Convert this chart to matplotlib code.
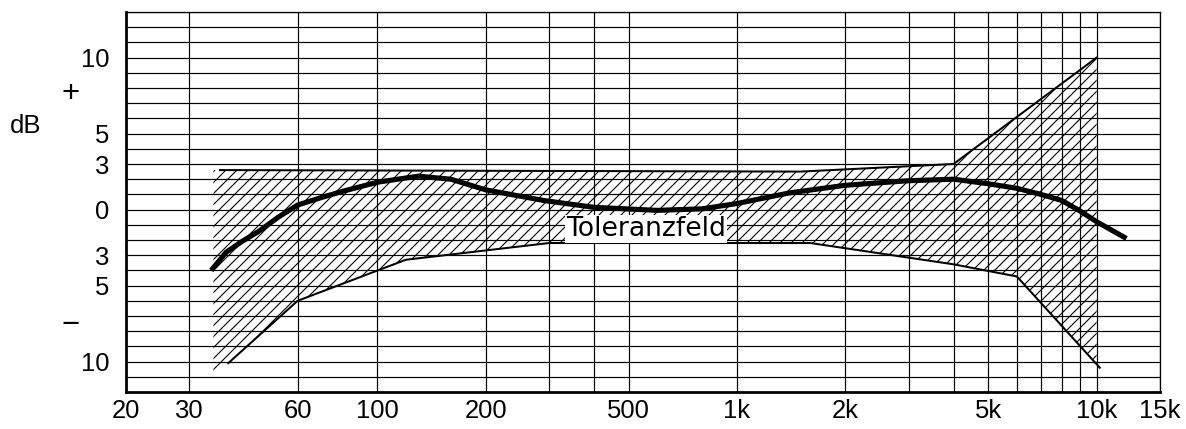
import matplotlib.pyplot as plt
from matplotlib.transforms import blended_transform_factory

# measured response curve (Hz, dB)
curve_f = [34.5, 38, 42, 47, 53, 60, 70, 80, 100, 130, 160, 200, 290, 400,
           600, 800, 1000, 1400, 2000, 3000, 4000, 5000, 6000, 7000, 8000,
           9000, 10000, 12100]
curve_db = [-4.0, -2.8, -2.1, -1.4, -0.5, 0.3, 0.8, 1.2, 1.8, 2.2, 2.0, 1.3,
            0.6, 0.15, -0.05, 0.05, 0.4, 1.1, 1.6, 1.9, 2.0, 1.7, 1.4, 1.0,
            0.6, -0.1, -0.8, -1.9]

# limit lines of the tolerance field
upper_f = [36.5, 1500, 4000, 10000]
upper_db = [2.6, 2.5, 3.0, 10.0]
lower_f = [38.5, 60, 120, 300, 1600, 4000, 6000, 10200]
lower_db = [-10.1, -6.0, -3.3, -2.2, -2.2, -3.6, -4.4, -10.4]

# hatched area (top edge left->right, bottom edge left->right)
field_top_f = [35, 1500, 4000, 10000]
field_top_db = [2.6, 2.5, 3.0, 10.0]
field_bot_f = [35, 38.5, 60, 120, 300, 1600, 4000, 6000, 10000]
field_bot_db = [-10.7, -10.1, -6.0, -3.3, -2.2, -2.2, -3.6, -4.4, -10.1]

# axis ticks
xtick_f = [20, 30, 60, 100, 200, 500, 1000, 2000, 5000, 10000, 15000]
xtick_labels = ['20', '30', '60', '100', '200', '500', '1k', '2k', '5k', '10k', '15k']
xgrid_extra = [300, 400, 3000, 4000, 6000, 7000, 8000, 9000]
ytick_db = list(range(-12, 14))
ytick_named = {10: '10', 5: '5', 3: '3', 0: '0', -3: '3', -5: '5', -10: '10'}

plt.rcParams['font.family'] = ['Liberation Sans', 'DejaVu Sans']
plt.rcParams['hatch.linewidth'] = 0.6

dpi = 132
fig = plt.figure(figsize=(1186 / dpi, 429 / dpi), dpi=dpi)
ax = fig.add_axes([126 / 1186, 37 / 429, 1034 / 1186, 380 / 429])
ax.set_xscale('log')
ax.set_xlim(20, 15000)
ax.set_ylim(-12, 13)

# tolerance field
ax.fill(field_top_f + field_bot_f[::-1], field_top_db + field_bot_db[::-1],
        facecolor='none', edgecolor='black', linewidth=0, hatch='////', zorder=1)
ax.plot(upper_f, upper_db, color='black', lw=1.1, zorder=2)
ax.plot(lower_f, lower_db, color='black', lw=1.1, zorder=2)

# response curve
ax.plot(curve_f, curve_db, color='black', lw=2.8, solid_joinstyle='round',
        solid_capstyle='butt', zorder=3)

ax.text(560, -1.3, 'Toleranzfeld', family='DejaVu Sans', fontsize=14.5,
        ha='center', va='center', zorder=4,
        bbox=dict(facecolor='white', edgecolor='none', pad=0.6))

# grid and ticks
ax.set_xticks(xtick_f)
ax.set_xticklabels(xtick_labels)
ax.set_xticks(xgrid_extra, minor=True)
ax.xaxis.set_minor_formatter(plt.NullFormatter())
ax.set_yticks(ytick_db)
ax.set_yticklabels([ytick_named.get(v, '') for v in ytick_db])
ax.grid(True, which='both', color='black', lw=0.65)
ax.tick_params(which='both', length=0, labelsize=14)
ax.tick_params(axis='x', pad=4)
ax.tick_params(axis='y', pad=9)

for side in ['left', 'bottom']:
    ax.spines[side].set_linewidth(1.5)
for side in ['top', 'right']:
    ax.spines[side].set_linewidth(0.7)

trans = blended_transform_factory(ax.transAxes, ax.transData)
ax.text(-0.097, 5.5, 'dB', transform=trans, ha='center', va='center', fontsize=14)
ax.text(-0.054, 7.6, '+', transform=trans, ha='center', va='center', fontsize=17)
ax.text(-0.054, -7.6, '\u2212', transform=trans, ha='center', va='center', fontsize=17)

fig.savefig('out.png', dpi=dpi)
